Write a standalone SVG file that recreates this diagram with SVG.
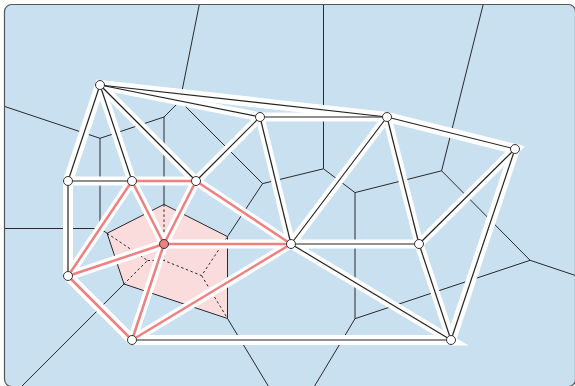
<svg xmlns="http://www.w3.org/2000/svg" width="575" height="386" viewBox="0 0 575 386">
  <defs>
    <clipPath id="frameClip">
      <rect x="5" y="5" width="571" height="382" rx="7"/>
    </clipPath>
    <style>
      .frame { fill: #c8e0ef; stroke: #555; stroke-width: 1.2; }
      .vor { fill: none; stroke: #2a2a2a; stroke-width: 1; stroke-linejoin: round; }
      .vdash { fill: none; stroke: #2a2a2a; stroke-width: 1; stroke-dasharray: 2.5 2.5; }
      .cell { fill: #fadcdd; stroke: #2a2a2a; stroke-width: 1; stroke-linejoin: round; }
      .hull { fill: none; stroke: #fff; stroke-width: 10; stroke-linejoin: miter; stroke-miterlimit: 10; }
      .casing { stroke: #fff; stroke-width: 9; stroke-linecap: butt; }
      .edge { stroke: #222; stroke-width: 1.2; }
      .redge { stroke: #f08080; stroke-width: 2.5; }
      .node { fill: #fff; stroke: #333; stroke-width: 1; }
      .hnode { fill: #f08080; stroke: #333; stroke-width: 1; }
    </style>
  </defs>

  <rect class="frame" x="4.5" y="4.5" width="571" height="382" rx="7"/>

  <g id="voronoi" clip-path="url(#frameClip)">
    <polygon class="cell" points="107.1,233.3 164,204.4 227.5,236.6 227.5,318.5 124,284"/>
    <path class="vor" d="M0,104.9 L100,138.3 L164,117 L180,101 L200.2,0"/>
    <path class="vor" d="M100,138.3 L100,228.5"/>
    <path class="vor" d="M0,228.5 L100,228.5 L107.1,233.3"/>
    <path class="vor" d="M164,117 L164,204.4"/>
    <path class="vor" d="M180,101 L262.6,183.6 L227.5,236.6"/>
    <path class="vor" d="M262.6,183.6 L323.5,168.8 L355,192.6 L441.6,170.8 L484.3,0"/>
    <path class="vor" d="M323.5,0 L323.5,168.8"/>
    <path class="vor" d="M355,192.6 L355,318.7"/>
    <path class="vor" d="M441.6,170.8 L530.1,260.3 L580,277"/>
    <path class="vor" d="M530.1,260.3 L355,318.7 L291.5,424.5"/>
    <path class="vor" d="M227.5,318.5 L291.5,424.5"/>
    <path class="vor" d="M124,284 L18,390"/>
    <path class="vdash" d="M164,204.4 L164,260.5"/>
    <path class="vdash" d="M107.1,233.3 L147.5,260.5 L124,284"/>
    <path class="vdash" d="M147.5,260.5 L164,260.5 L201.6,275.6 L227.5,236.6"/>
    <path class="vdash" d="M201.6,275.6 L227.5,318.5"/>
  </g>

  <g id="connectors">
    <g id="hull-band">
      <polygon class="hull" points="100,85 387,117 515,149 451,340 132,340 68,276 68,181"/>
      <polygon fill="#fff" points="452,335.5 468.5,345.5 451,345.5"/>
      <polygon fill="#fff" points="516,143.5 525,146.7 519,152"/>
    </g>
    <g id="casings">
      <line class="casing" x1="100" y1="85" x2="68" y2="181"/>
      <line class="casing" x1="100" y1="85" x2="132" y2="181"/>
      <line class="casing" x1="100" y1="85" x2="196" y2="181"/>
      <line class="casing" x1="100" y1="85" x2="260" y2="117"/>
      <line class="casing" x1="100" y1="85" x2="387" y2="117"/>
      <line class="casing" x1="68" y1="181" x2="132" y2="181"/>
      <line class="casing" x1="68" y1="181" x2="68" y2="276"/>
      <line class="casing" x1="196" y1="181" x2="260" y2="117"/>
      <line class="casing" x1="260" y1="117" x2="291" y2="244"/>
      <line class="casing" x1="260" y1="117" x2="387" y2="117"/>
      <line class="casing" x1="387" y1="117" x2="291" y2="244"/>
      <line class="casing" x1="387" y1="117" x2="419" y2="244"/>
      <line class="casing" x1="387" y1="117" x2="515" y2="149"/>
      <line class="casing" x1="515" y1="149" x2="419" y2="244"/>
      <line class="casing" x1="515" y1="149" x2="451" y2="340"/>
      <line class="casing" x1="419" y1="244" x2="451" y2="340"/>
      <line class="casing" x1="291" y1="244" x2="419" y2="244"/>
      <line class="casing" x1="291" y1="244" x2="451" y2="340"/>
      <line class="casing" x1="132" y1="340" x2="451" y2="340"/>
      <line class="casing" x1="132" y1="181" x2="196" y2="181"/>
      <line class="casing" x1="132" y1="181" x2="164" y2="244"/>
      <line class="casing" x1="132" y1="181" x2="68" y2="276"/>
      <line class="casing" x1="196" y1="181" x2="164" y2="244"/>
      <line class="casing" x1="196" y1="181" x2="291" y2="244"/>
      <line class="casing" x1="164" y1="244" x2="291" y2="244"/>
      <line class="casing" x1="164" y1="244" x2="68" y2="276"/>
      <line class="casing" x1="164" y1="244" x2="132" y2="340"/>
      <line class="casing" x1="291" y1="244" x2="132" y2="340"/>
      <line class="casing" x1="68" y1="276" x2="132" y2="340"/>
    </g>
    <g id="edges">
      <line class="edge" x1="100" y1="85" x2="68" y2="181"/>
      <line class="edge" x1="100" y1="85" x2="132" y2="181"/>
      <line class="edge" x1="100" y1="85" x2="196" y2="181"/>
      <line class="edge" x1="100" y1="85" x2="260" y2="117"/>
      <line class="edge" x1="100" y1="85" x2="387" y2="117"/>
      <line class="edge" x1="68" y1="181" x2="132" y2="181"/>
      <line class="edge" x1="68" y1="181" x2="68" y2="276"/>
      <line class="edge" x1="196" y1="181" x2="260" y2="117"/>
      <line class="edge" x1="260" y1="117" x2="291" y2="244"/>
      <line class="edge" x1="260" y1="117" x2="387" y2="117"/>
      <line class="edge" x1="387" y1="117" x2="291" y2="244"/>
      <line class="edge" x1="387" y1="117" x2="419" y2="244"/>
      <line class="edge" x1="387" y1="117" x2="515" y2="149"/>
      <line class="edge" x1="515" y1="149" x2="419" y2="244"/>
      <line class="edge" x1="515" y1="149" x2="451" y2="340"/>
      <line class="edge" x1="419" y1="244" x2="451" y2="340"/>
      <line class="edge" x1="291" y1="244" x2="419" y2="244"/>
      <line class="edge" x1="291" y1="244" x2="451" y2="340"/>
      <line class="edge" x1="132" y1="340" x2="451" y2="340"/>
    </g>
    <g id="red-edges">
      <line class="redge" x1="132" y1="181" x2="196" y2="181"/>
      <line class="redge" x1="132" y1="181" x2="164" y2="244"/>
      <line class="redge" x1="132" y1="181" x2="68" y2="276"/>
      <line class="redge" x1="196" y1="181" x2="164" y2="244"/>
      <line class="redge" x1="196" y1="181" x2="291" y2="244"/>
      <line class="redge" x1="164" y1="244" x2="291" y2="244"/>
      <line class="redge" x1="164" y1="244" x2="68" y2="276"/>
      <line class="redge" x1="164" y1="244" x2="132" y2="340"/>
      <line class="redge" x1="291" y1="244" x2="132" y2="340"/>
      <line class="redge" x1="68" y1="276" x2="132" y2="340"/>
    </g>
  </g>

  <g id="node-A"><circle class="node" cx="100" cy="85" r="4.5"/></g>
  <g id="node-B"><circle class="node" cx="68" cy="181" r="4.5"/></g>
  <g id="node-C"><circle class="node" cx="132" cy="181" r="4.5"/></g>
  <g id="node-D"><circle class="node" cx="196" cy="181" r="4.5"/></g>
  <g id="node-E"><circle class="node" cx="260" cy="117" r="4.5"/></g>
  <g id="node-F"><circle class="node" cx="387" cy="117" r="4.5"/></g>
  <g id="node-G"><circle class="node" cx="515" cy="149" r="4.5"/></g>
  <g id="node-H"><circle class="hnode" cx="164" cy="244" r="4.5"/></g>
  <g id="node-I"><circle class="node" cx="291" cy="244" r="4.5"/></g>
  <g id="node-J"><circle class="node" cx="419" cy="244" r="4.5"/></g>
  <g id="node-K"><circle class="node" cx="68" cy="276" r="4.5"/></g>
  <g id="node-L"><circle class="node" cx="132" cy="340" r="4.5"/></g>
  <g id="node-M"><circle class="node" cx="451" cy="340" r="4.5"/></g>
</svg>
